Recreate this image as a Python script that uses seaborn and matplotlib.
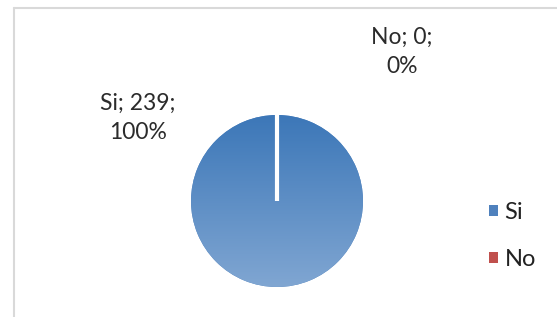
import numpy as np
import matplotlib
matplotlib.use("Agg")
import matplotlib.pyplot as plt
import seaborn as sns
from matplotlib.lines import Line2D
from matplotlib.colors import LinearSegmentedColormap

sns.set_theme(style="white")
plt.rcParams['font.family'] = ['Lato', 'DejaVu Sans']

# ---- data ----
categories = ["Si", "No"]
counts = [239, 0]
percents = [100, 0]
colors = ["#4F81BD", "#C0504D"]

W, H = 557, 317
fig = plt.figure(figsize=(W / 100, H / 100), dpi=100)
fig.patch.set_facecolor("white")

# frame of the chart area
fig.add_artist(Line2D([14 / W, 14 / W], [0, 1 - 8 / H], color="#d9d9d9", lw=1.5))
fig.add_artist(Line2D([14 / W, 1], [1 - 8 / H, 1 - 8 / H], color="#d9d9d9", lw=1.5))

cx, cy, r = 277, 201, 86
ax = fig.add_axes([(cx - r) / W, (H - cy - r) / H, 2 * r / W, 2 * r / H])

wedges, _ = ax.pie(counts, colors=colors, startangle=90, counterclock=False,
                   radius=1, wedgeprops=dict(edgecolor="white", linewidth=3))
ax.axis("off")

# gradient fill (Excel style) clipped to the Si wedge
cmap = LinearSegmentedColormap.from_list("g", ["#80a6d2", "#3c77b8"])
grad = np.linspace(0, 1, 256).reshape(-1, 1)
img = ax.imshow(grad, extent=[-1, 1, -1, 1], origin="lower", cmap=cmap,
                aspect="auto", zorder=1.5)
img.set_clip_path(wedges[0])
wedges[0].set_edgecolor("none")
wedges[1].set_zorder(3)
ax.set_xlim(-1, 1)
ax.set_ylim(-1, 1)

# data labels
lab_pos = {"Si": (138, 118), "No": (402, 52)}
for cat, n, p in zip(categories, counts, percents):
    x, y = lab_pos[cat]
    fig.text(x / W, 1 - y / H, f"{cat}; {n};\n{p}%", ha="center", va="center",
             fontsize=16.5, color="#2b2b2b", linespacing=1.45)

# legend
handles = [plt.Rectangle((0, 0), 1, 1, facecolor=c, edgecolor="none") for c in colors]
fig.legend(handles, categories, loc="center left",
           bbox_to_anchor=(468 / W, 1 - 236 / H), frameon=False, fontsize=17,
           handlelength=0.35, handleheight=0.35, handletextpad=0.3,
           labelspacing=1.1, labelcolor="#222222")

fig.savefig("out.png", dpi=100)
